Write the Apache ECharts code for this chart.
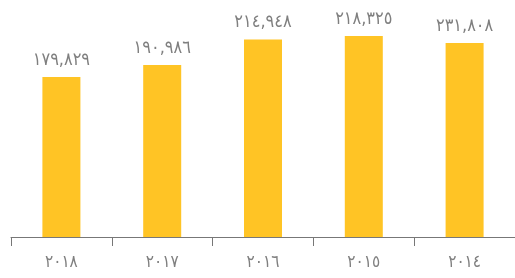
<!DOCTYPE html>
<html>
<head>
<meta charset="utf-8">
<script src="https://cdn.jsdelivr.net/npm/echarts@6/dist/echarts.min.js"></script>
<style>
  html, body { margin: 0; padding: 0; background: #fff; }
  #chart { width: 515px; height: 278px; }
</style>
</head>
<body>
<div id="chart"></div>
<script>
// years shown left to right
const years = ['٢٠١٨', '٢٠١٧', '٢٠١٦', '٢٠١٥', '٢٠١٤'];
// bar heights
const barValues = [179829, 190986, 214948, 218325, 211600];
// labels printed above the bars
const barLabels = ['١٧٩,٨٢٩', '١٩٠,٩٨٦', '٢١٤,٩٤٨', '٢١٨,٣٢٥', '٢٣١,٨٠٨'];

const chart = echarts.init(document.getElementById('chart'));
chart.setOption({
    animation: false,
    grid: { left: 11, right: -3, top: 17, bottom: 41 },
    xAxis: {
        type: 'category',
        data: years,
        axisLine: { lineStyle: { color: '#777', width: 1 } },
        axisTick: { show: true, length: 9, lineStyle: { color: '#777', width: 1 } },
        axisLabel: {
            color: '#7f7f7f',
            fontFamily: 'DejaVu Sans Condensed',
            fontSize: 17,
            margin: 17
        }
    },
    yAxis: {
        type: 'value',
        min: 30000,
        max: 236000,
        show: false,
        splitLine: { show: false }
    },
    series: [{
        type: 'bar',
        data: barValues,
        barWidth: 38,
        itemStyle: { color: '#ffc425' },
        label: {
            show: true,
            position: 'top',
            distance: 8,
            color: '#7f7f7f',
            fontFamily: 'DejaVu Sans Condensed',
            fontSize: 18,
            formatter: (p) => barLabels[p.dataIndex]
        }
    }]
});
</script>
</body>
</html>
